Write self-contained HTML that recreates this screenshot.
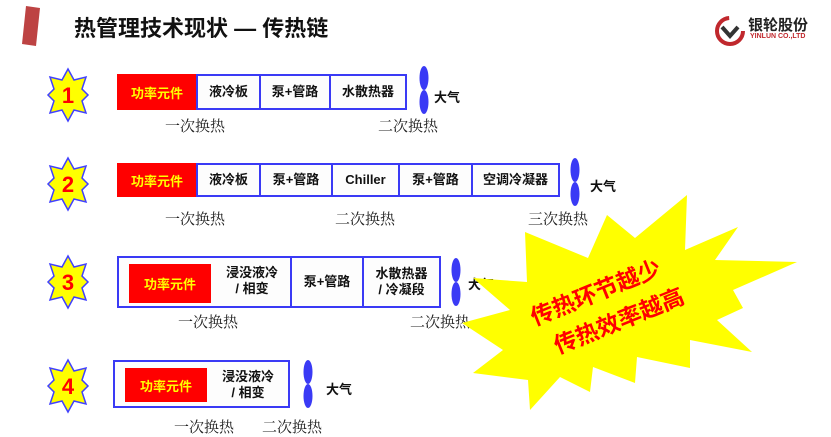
<!DOCTYPE html>
<html><head><meta charset="utf-8"><style>
body{margin:0;width:831px;height:437px;background:#fff;position:relative;overflow:hidden;font-family:"Liberation Sans","Noto Sans CJK SC",sans-serif;}
.a{position:absolute;}
.c{position:absolute;box-sizing:border-box;border:2px solid #3a3af5;background:#fdfdfd;display:flex;align-items:center;justify-content:center;font-weight:bold;font-size:13px;color:#111;text-align:center;line-height:16px;}
.r{position:absolute;background:#ff0000;color:#ffff00;font-weight:bold;font-size:13px;display:flex;align-items:center;justify-content:center;}
.l{position:absolute;font-family:"Liberation Serif","Noto Serif CJK SC",serif;font-size:15px;color:#222;white-space:nowrap;}
.d{position:absolute;font-weight:bold;font-size:13px;color:#111;}
</style></head><body>
<svg class="a" style="left:0;top:0" width="831" height="437">
<polygon points="26,6 40,8 36,46 22,44" fill="#b22222" opacity="0.85"/>
<defs><g id="st"><polygon points="0,-26 6,-15 18,-18 14,-6 20,0 14,6 18,18 6,15 0,26 -6,15 -18,18 -14,6 -20,0 -14,-6 -18,-18 -6,-15" fill="#ffff00" stroke="#4040ff" stroke-width="1.5"/></g>
<g id="ov"><ellipse cx="0" cy="-12" rx="4.5" ry="12" fill="#3a3af5"/><ellipse cx="0" cy="12" rx="4.5" ry="12" fill="#3a3af5"/></g></defs>
<use href="#st" x="68" y="95"/><use href="#st" x="68" y="184"/><use href="#st" x="68" y="282"/><use href="#st" x="68" y="386"/>
<g font-family="Liberation Sans" font-weight="bold" font-size="22" fill="#ff0000" text-anchor="middle"><text x="68" y="103">1</text><text x="68" y="192">2</text><text x="68" y="290">3</text><text x="68" y="394">4</text></g>
<use href="#ov" x="424" y="90"/><use href="#ov" x="575" y="182"/><use href="#ov" x="456" y="282"/><use href="#ov" x="308" y="384"/>
</svg>
<div class="a" style="left:74px;top:11px;font-size:22px;font-weight:bold;color:#111;">热管理技术现状 — 传热链</div>
<svg class="a" style="left:713px;top:14px" width="34" height="34"><circle cx="17" cy="17" r="13" fill="none" stroke="#c0282d" stroke-width="4" stroke-dasharray="60 22"/><path d="M9 13 L17 22 L25 13" stroke="#333" stroke-width="4" fill="none"/></svg>
<div class="a" style="left:748px;top:14px;font-size:15px;font-weight:bold;color:#222;">银轮股份</div>
<div class="a" style="left:750px;top:33px;font-size:7px;font-weight:bold;color:#c0282d;">YINLUN CO.,LTD</div>

<div class="r" style="left:117px;top:74px;width:80px;height:36px;">功率元件</div>
<div class="c" style="left:196px;top:74px;width:65px;height:36px;">液冷板</div>
<div class="c" style="left:259px;top:74px;width:72px;height:36px;">泵+管路</div>
<div class="c" style="left:329px;top:74px;width:78px;height:36px;">水散热器</div>
<div class="d" style="left:434px;top:87px;">大气</div>
<div class="l" style="left:165px;top:115px;">一次换热</div>
<div class="l" style="left:378px;top:115px;">二次换热</div>

<div class="r" style="left:117px;top:163px;width:80px;height:34px;">功率元件</div>
<div class="c" style="left:196px;top:163px;width:65px;height:34px;">液冷板</div>
<div class="c" style="left:259px;top:163px;width:74px;height:34px;">泵+管路</div>
<div class="c" style="left:331px;top:163px;width:69px;height:34px;">Chiller</div>
<div class="c" style="left:398px;top:163px;width:75px;height:34px;">泵+管路</div>
<div class="c" style="left:471px;top:163px;width:89px;height:34px;">空调冷凝器</div>
<div class="d" style="left:590px;top:176px;">大气</div>
<div class="l" style="left:165px;top:208px;">一次换热</div>
<div class="l" style="left:335px;top:208px;">二次换热</div>
<div class="l" style="left:528px;top:208px;">三次换热</div>

<div class="c" style="left:117px;top:256px;width:175px;height:52px;"></div>
<div class="r" style="left:129px;top:264px;width:82px;height:39px;">功率元件</div>
<div class="d" style="left:214px;top:265px;width:76px;text-align:center;line-height:16px;">浸没液冷<br>/ 相变</div>
<div class="c" style="left:290px;top:256px;width:74px;height:52px;">泵+管路</div>
<div class="c" style="left:362px;top:256px;width:79px;height:52px;">水散热器<br>/ 冷凝段</div>
<div class="d" style="left:468px;top:274px;">大气</div>
<div class="l" style="left:178px;top:311px;">一次换热</div>
<div class="l" style="left:410px;top:311px;">二次换热</div>

<div class="c" style="left:113px;top:360px;width:177px;height:48px;"></div>
<div class="r" style="left:125px;top:368px;width:82px;height:34px;">功率元件</div>
<div class="d" style="left:210px;top:369px;width:76px;text-align:center;line-height:16px;">浸没液冷<br>/ 相变</div>
<div class="d" style="left:326px;top:379px;">大气</div>
<div class="l" style="left:174px;top:416px;">一次换热</div>
<div class="l" style="left:262px;top:416px;">二次换热</div>

<svg class="a" style="left:0;top:0" width="831" height="437">
<polygon points="687,195 685,250 738,227 715,260 797,262 733,290 743,308 717,320 752,352 690,340 690,368 637,357 635,383 593,367 590,392 560,377 530,410 528,380 473,373 503,350 462,323 510,310 473,278 527,282 525,232 588,258 607,215 635,238" fill="#ffff00"/>
<g transform="rotate(-22 605 305)" font-family="Liberation Sans,Noto Sans CJK SC,sans-serif" font-weight="bold" font-size="23" fill="#ff0000" text-anchor="middle">
<text x="601" y="298">传热环节越少</text><text x="612" y="333">传热效率越高</text></g>
</svg>
</body></html>
